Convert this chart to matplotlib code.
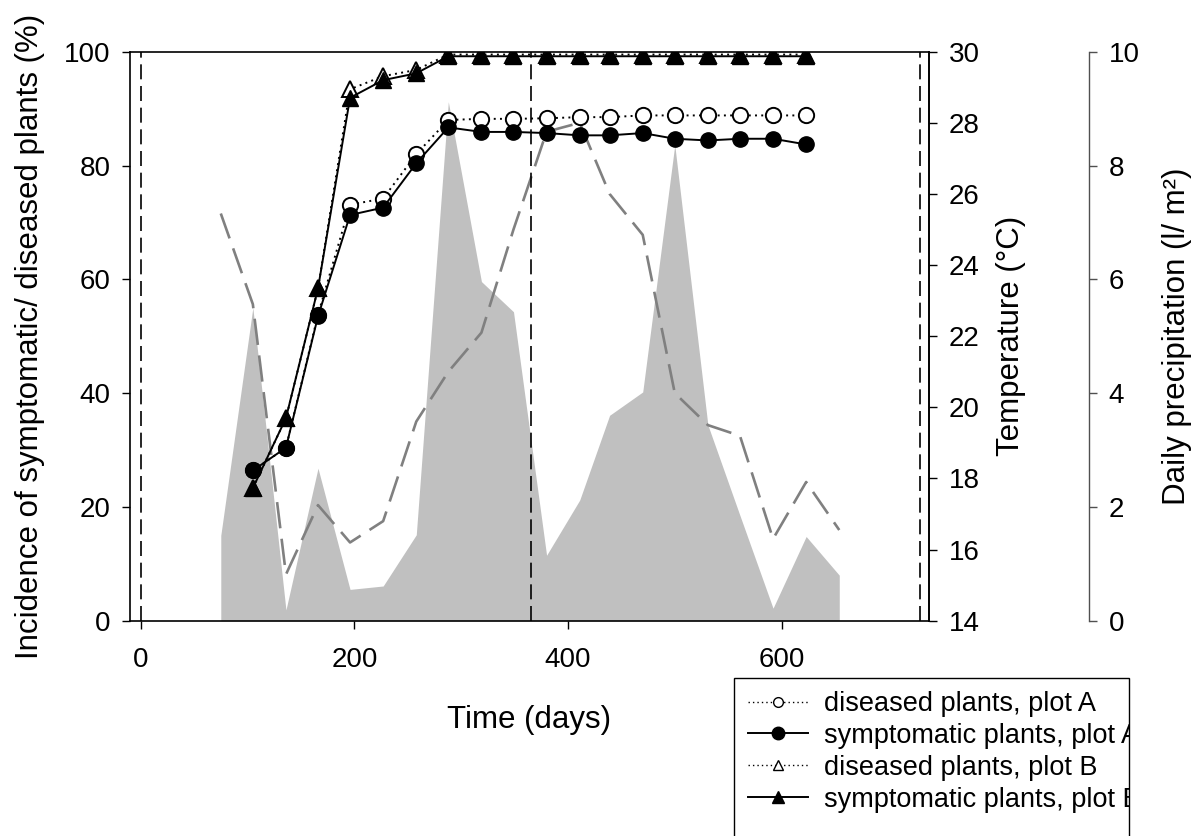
import matplotlib
matplotlib.use("Agg")
import matplotlib.pyplot as plt
from matplotlib.lines import Line2D
from matplotlib.patches import Rectangle

plt.rcParams['font.family'] = ['Liberation Sans', 'DejaVu Sans']

# Sampling dates of disease assessment (days)
days = [105, 136, 166, 196, 227, 258, 288, 319, 349, 380, 411, 439, 470,
        500, 531, 561, 592, 623]
diseased_a = [26.4, 30.4, 53.8, 73.1, 74.2, 82.0, 88.0, 88.2, 88.2, 88.3,
              88.5, 88.5, 88.8, 88.8, 88.8, 88.8, 88.8, 88.8]
symptomatic_a = [26.4, 30.4, 53.5, 71.3, 72.6, 80.4, 86.7, 85.9, 85.9, 85.7,
                 85.3, 85.3, 85.7, 84.7, 84.4, 84.7, 84.7, 83.7]
diseased_b = [23.3, 35.6, 58.4, 93.4, 95.7, 96.8, 99.5, 99.5, 99.5, 99.5,
              99.5, 99.5, 99.5, 99.5, 99.5, 99.5, 99.5, 99.5]
symptomatic_b = [23.3, 35.6, 58.4, 91.9, 95.0, 96.2, 99.2, 99.2, 99.2, 99.2,
                 99.2, 99.2, 99.2, 99.2, 99.2, 99.2, 99.2, 99.2]

# Monthly weather records
weather_days = [75, 105, 136, 166, 196, 227, 258, 288, 319, 349, 380, 411,
                439, 470, 500, 531, 561, 592, 623, 654]
temperature = [25.45, 22.9, 15.3, 17.25, 16.2, 16.8, 19.6, 21.0, 22.1, 25.0,
               27.75, 28.0, 26.0, 24.85, 20.4, 19.5, 19.2, 16.3, 17.9, 16.55]
precipitation = [1.5, 5.5, 0.19, 2.68, 0.55, 0.61, 1.51, 9.12, 5.96, 5.43,
                 1.15, 2.12, 3.61, 4.02, 8.36, 3.44, 1.85, 0.22, 1.48, 0.80]

# Year boundaries
year_marks = [0, 365, 730]

x_ticks = [0, 200, 400, 600]
inc_ticks = [0, 20, 40, 60, 80, 100]
temp_ticks = [14, 16, 18, 20, 22, 24, 26, 28, 30]
prec_ticks = [0, 2, 4, 6, 8, 10]

FS = 20      # tick labels
LFS = 22.5   # axis titles
GFS = 19.5   # legend
W, H = 1197, 836
fig = plt.figure(figsize=(W / 100, H / 100), dpi=100)
fig.patch.set_facecolor('white')

left, right, top, bottom = 130, 929, 51.7, 620.7
ax = fig.add_axes([left / W, 1 - bottom / H, (right - left) / W, (bottom - top) / H])
ax_t = ax.twinx()
ax_p = ax.twinx()

ax.set_zorder(3)
ax.patch.set_visible(False)
ax_t.set_zorder(2)
ax_t.patch.set_visible(False)
ax_p.set_zorder(1)

# Precipitation (filled area)
ax_p.fill_between(weather_days, precipitation, 0, color='#c0c0c0', lw=0)
ax_p.set_ylim(0, 10)
ax_p.set_yticks(prec_ticks)
ax_p.spines['right'].set_position(('axes', (1089 - left) / (right - left)))
for s in ['left', 'top', 'bottom']:
    ax_p.spines[s].set_visible(False)
ax_p.spines['right'].set_color('#505050')
ax_p.spines['right'].set_linewidth(1.0)
ax_p.tick_params(axis='y', direction='out', length=6, width=1.0, color='#505050',
                 labelsize=FS, pad=8)
ax_p.set_ylabel('Daily precipitation (l/ m²)', fontsize=LFS, labelpad=16)

# Temperature (dashed line)
ax_t.plot(weather_days, temperature, color='#808080', lw=1.9,
          linestyle=(0, (10, 4)))
ax_t.set_ylim(14, 30)
ax_t.set_yticks(temp_ticks)
for s in ['left', 'top', 'bottom']:
    ax_t.spines[s].set_visible(False)
ax_t.spines['right'].set_linewidth(1.2)
ax_t.tick_params(axis='y', direction='out', length=6, width=1.0,
                 labelsize=FS, pad=8)
ax_t.set_ylabel('Temperature (°C)', fontsize=LFS, labelpad=12)

# Disease incidence
dot = (0, (1, 2.2))
ms = 11
ax.plot(days, diseased_a, linestyle=dot, color='black', lw=1.4, marker='o',
        ms=ms, mfc='white', mec='black', mew=1.4)
ax.plot(days, symptomatic_a, linestyle='-', color='black', lw=1.4, marker='o',
        ms=ms, mfc='black', mec='black')
ax.plot(days, diseased_b, linestyle=dot, color='black', lw=1.4, marker='^',
        ms=ms, mfc='white', mec='black', mew=1.4)
ax.plot(days, symptomatic_b, linestyle='-', color='black', lw=1.4, marker='^',
        ms=ms, mfc='black', mec='black')

for xm in year_marks:
    ax.axvline(xm, color='black', lw=1.2, linestyle=(0, (9, 4)), zorder=1)

ax.set_xlim(-10, 738)
ax.set_ylim(0, 100)
ax.set_xticks(x_ticks)
ax.set_yticks(inc_ticks)
for s in ax.spines.values():
    s.set_linewidth(1.2)
ax.tick_params(axis='both', direction='out', length=6, width=1.0,
               labelsize=FS, pad=8)
ax.tick_params(axis='x', pad=13)
ax.tick_params(axis='y', which='both', right=False)
ax.set_xlabel('Time (days)', fontsize=LFS, labelpad=23)
ax.set_ylabel('Incidence of symptomatic/ diseased plants (%)', fontsize=LFS,
              labelpad=14)

# Legend with an open-bottomed frame running off the figure edge
frame = Rectangle((734 / W, -0.05), (1129 - 734) / W, 0.05 + 1 - 678 / H,
                  transform=fig.transFigure, fill=False, lw=1.0,
                  edgecolor='black', clip_on=False)
fig.add_artist(frame)

handles = [
    Line2D([], [], linestyle=dot, color='black', lw=1.0, marker='o', ms=7,
           mfc='white', mec='black', mew=1.0),
    Line2D([], [], linestyle='-', color='black', lw=1.4, marker='o', ms=9,
           mfc='black', mec='black'),
    Line2D([], [], linestyle=dot, color='black', lw=1.0, marker='^', ms=7,
           mfc='white', mec='black', mew=1.0),
    Line2D([], [], linestyle='-', color='black', lw=1.4, marker='^', ms=9,
           mfc='black', mec='black'),
]
labels = ['diseased plants, plot A', 'symptomatic plants, plot A',
          'diseased plants, plot B', 'symptomatic plants, plot B']
leg = fig.legend(handles, labels, loc='upper left', frameon=False, fontsize=GFS,
                 bbox_to_anchor=(748 / W, 1 - 691 / H), borderpad=0,
                 borderaxespad=0, handlelength=2.2, handletextpad=0.6,
                 labelspacing=0.22)
clip = Rectangle((734 / W, 0), (1129 - 734) / W, 1 - 678 / H,
                 transform=fig.transFigure)
for t in leg.get_texts():
    t.set_clip_path(clip)

fig.savefig('out.png', dpi=100)
